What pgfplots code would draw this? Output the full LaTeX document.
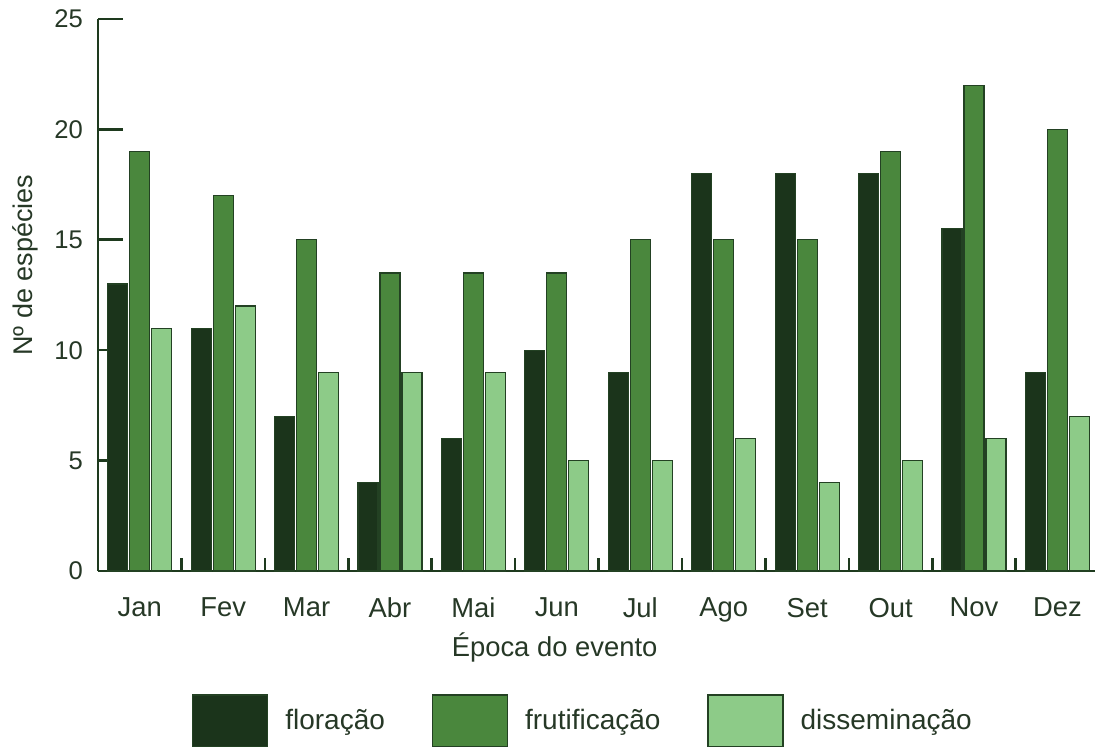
\documentclass[border=0pt]{standalone}
\usepackage{pgfplots}
\pgfplotsset{compat=1.18}
\usepackage{fontspec}
\setmainfont{Liberation Sans}
\usetikzlibrary{calc}
\definecolor{cDark}{RGB}{27,52,27}
\definecolor{cMid}{RGB}{74,135,61}
\definecolor{cLight}{RGB}{141,203,136}
\definecolor{cAxis}{RGB}{30,58,30}
\definecolor{cText}{RGB}{38,56,38}
\definecolor{cEdge}{RGB}{35,65,35}
\begin{document}
\begin{tikzpicture}
\begin{axis}[
  scale only axis, width=498.5bp, height=276bp,
  xmin=-0.5, xmax=11.45, ymin=0, ymax=25,
  axis lines*=left,
  axis line style={cAxis, line width=1.3bp},
  ybar, bar width=10bp,
  xtick={0,...,11},
  xticklabels={Jan,Fev,Mar,Abr,Mai,Jun,Jul,Ago,Set,Out,Nov,Dez},
  minor xtick={0.5,1.5,...,10.5},
  ytick={0,5,...,25},
  tick align=inside,
  major tick length=12.5bp,
  minor tick length=6.5bp,
  tick style={cAxis, line width=1.3bp},
  major x tick style={draw=none},
  /pgf/number format/assume math mode=true,
  yticklabel style={font=\fontsize{12.8bp}{14bp}\selectfont, text=cText, xshift=-4bp},
  xticklabel style={font=\fontsize{13.7bp}{16bp}\selectfont, text=cText, yshift=-10bp},
  xlabel={Época do evento},
  ylabel={Nº de espécies},
  xlabel style={at={(axis description cs:0.458,-0.138)}, anchor=center, font=\fontsize{13.7bp}{16bp}\selectfont, text=cText},
  ylabel style={at={(axis description cs:-0.0732,0.554)}, anchor=center, font=\fontsize{13.5bp}{16bp}\selectfont, text=cText},
  legend columns=3,
  legend style={draw=none, fill=none, inner sep=0pt,
    at={(axis description cs:0.094,-0.2228)}, anchor=north west,
    font=\fontsize{14bp}{16bp}\selectfont, text=cText,
    /tikz/every even column/.append style={column sep=21.5bp},
    /tikz/every odd column/.append style={column sep=6.5bp}},
  legend image code/.code={\draw[#1] (0bp,-13bp) rectangle (37.5bp,13bp);},
]
\addplot[fill=cDark, draw=cEdge, line width=0.6bp, bar shift=-11bp] coordinates {(0,13)(1,11)(2,7)(3,4)(4,6)(5,10)(6,9)(7,18)(8,18)(9,18)(10,15.5)(11,9)};
\addplot[fill=cMid, draw=cEdge, line width=0.6bp, bar shift=0bp] coordinates {(0,19)(1,17)(2,15)(3,13.5)(4,13.5)(5,13.5)(6,15)(7,15)(8,15)(9,19)(10,22)(11,20)};
\addplot[fill=cLight, draw=cEdge, line width=0.6bp, bar shift=11bp] coordinates {(0,11)(1,12)(2,9)(3,9)(4,9)(5,5)(6,5)(7,6)(8,4)(9,5)(10,6)(11,7)};
\legend{floração,frutificação,disseminação}
\end{axis}
\pgfresetboundingbox
\path[use as bounding box] ($(current axis.south west)+(-49bp,-88bp)$) rectangle ($(current axis.north east)+(0bp,9.5bp)$);
\end{tikzpicture}
\end{document}
